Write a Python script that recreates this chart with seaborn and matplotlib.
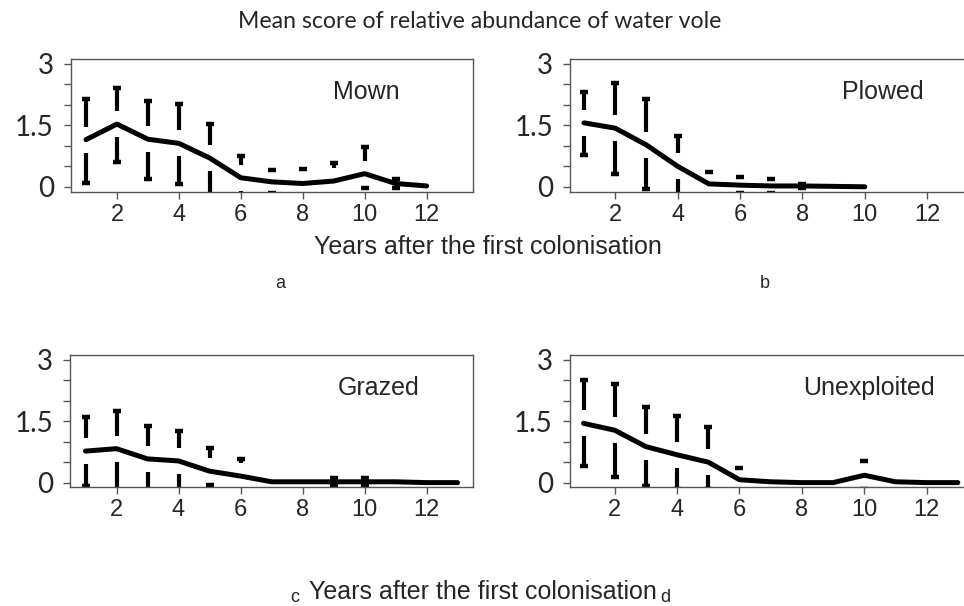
import numpy as np
import pandas as pd
import matplotlib.pyplot as plt
import seaborn as sns

# mean score and error bar limits, per management type
mown_years = list(range(1, 13))
mown_mean = [1.15, 1.53, 1.16, 1.06, 0.70, 0.22, 0.12, 0.08, 0.14, 0.32, 0.08, 0.02]
mown_upper = [2.13, 2.40, 2.10, 2.02, 1.53, 0.76, 0.40, 0.44, 0.58, 0.97, 0.18, 0.02]
mown_lower = [0.10, 0.60, 0.19, 0.08, -0.20, -0.32, -0.16, -0.28, -0.30, -0.02, -0.04, 0.02]

plowed_years = list(range(1, 11))
plowed_mean = [1.56, 1.43, 1.02, 0.50, 0.07, 0.04, 0.02, 0.02, 0.01, 0.00]
plowed_upper = [2.31, 2.54, 2.13, 1.24, 0.36, 0.24, 0.18, 0.08, 0.01, 0.00]
plowed_lower = [0.78, 0.30, -0.05, -0.24, -0.22, -0.16, -0.14, -0.04, 0.01, 0.00]

grazed_years = list(range(1, 14))
grazed_mean = [0.77, 0.83, 0.58, 0.53, 0.28, 0.16, 0.02, 0.02, 0.02, 0.02, 0.02, 0.00, 0.00]
grazed_upper = [1.60, 1.74, 1.38, 1.27, 0.85, 0.57, 0.02, 0.02, 0.12, 0.12, 0.02, 0.00, 0.00]
grazed_lower = [-0.08, -0.20, -0.20, -0.20, -0.06, -0.25, 0.02, 0.02, -0.08, -0.08, 0.02, 0.00, 0.00]

unexp_years = list(range(1, 14))
unexp_mean = [1.45, 1.28, 0.88, 0.68, 0.50, 0.07, 0.02, 0.00, 0.00, 0.18, 0.02, 0.00, 0.00]
unexp_upper = [2.50, 2.40, 1.85, 1.63, 1.35, 0.35, 0.02, 0.00, 0.00, 0.52, 0.02, 0.00, 0.00]
unexp_lower = [0.40, 0.14, -0.08, -0.15, -0.15, -0.20, 0.02, 0.00, 0.00, -0.16, 0.02, 0.00, 0.00]

x_ticks = [2, 4, 6, 8, 10, 12]
y_ticks = [0, 0.5, 1, 1.5, 2, 2.5, 3]
y_labels = ['0', '', '', '1.5', '', '', '3']

GAP = 0.32  # bars are broken around the mean line

sns.set_theme(style="ticks")
plt.rcParams['font.family'] = ['Liberation Sans', 'DejaVu Sans']

fig = plt.figure(figsize=(9.64, 6.06), dpi=100)
W, H = 964, 606


def add_axes(left, top, right, bottom):
    return fig.add_axes([left / W, 1 - bottom / H, (right - left) / W, (bottom - top) / H])


def draw_panel(ax, years, mean, upper, lower, name, name_x, xlim, ylim):
    df = pd.DataFrame({'year': years, 'mean': mean})
    sns.lineplot(data=df, x='year', y='mean', ax=ax, color='black', lw=3.6,
                 solid_capstyle='round', solid_joinstyle='round')
    for x, m, hi, lo in zip(years, mean, upper, lower):
        if hi > m + GAP:
            ax.plot([x, x], [m + GAP, hi], color='black', lw=3.0, solid_capstyle='butt')
        if hi > m + 0.05:
            ax.plot(x, hi, marker='_', ms=6, mew=3.2, color='black')
        if lo < m - GAP:
            ax.plot([x, x], [lo, m - GAP], color='black', lw=3.0, solid_capstyle='butt')
        if lo < m - 0.05:
            ax.plot(x, lo, marker='_', ms=6, mew=3.2, color='black')
    ax.set_xlim(*xlim)
    ax.set_ylim(*ylim)
    ax.set_xticks(x_ticks)
    ax.set_xticklabels([str(t) for t in x_ticks],
                       fontfamily=['Liberation Sans Narrow', 'Liberation Sans'], fontsize=17)
    ax.set_yticks(y_ticks)
    ax.set_yticklabels(y_labels, fontfamily=['Lato', 'DejaVu Sans'], fontsize=20)
    ax.tick_params(axis='both', length=5, width=1, color='#555555', pad=4)
    ax.tick_params(axis='y', pad=7)
    ax.set_xlabel('')
    ax.set_ylabel('')
    for s in ax.spines.values():
        s.set_visible(True)
        s.set_color('#555555')
        s.set_linewidth(1)
    ax.text(name_x, 2.32, name, fontsize=18, ha='left', va='center')


ax_a = add_axes(70.5, 59.3, 473, 191.7)
ax_b = add_axes(570, 59.3, 975.6, 191.7)
ax_c = add_axes(70, 355, 473, 486.7)
ax_d = add_axes(569.5, 355, 975, 486.7)

draw_panel(ax_a, mown_years, mown_mean, mown_upper, mown_lower, 'Mown', 8.97,
           (0.5, 13.5), (-0.12, 3.11))
draw_panel(ax_b, plowed_years, plowed_mean, plowed_upper, plowed_lower, 'Plowed', 9.26,
           (0.55, 13.55), (-0.12, 3.11))
draw_panel(ax_c, grazed_years, grazed_mean, grazed_upper, grazed_lower, 'Grazed', 9.13,
           (0.5, 13.5), (-0.1, 3.12))
draw_panel(ax_d, unexp_years, unexp_mean, unexp_upper, unexp_lower, 'Unexploited', 8.05,
           (0.55, 13.55), (-0.1, 3.12))

fig.text(480 / W, 1 - 22 / H, 'Mean score of relative abundance of water vole',
         ha='center', va='center', fontsize=16.6, fontfamily=['Lato', 'DejaVu Sans'])
fig.text(488 / W, 1 - 247 / H, 'Years after the first colonisation',
         ha='center', va='center', fontsize=18)
fig.text(483 / W, 1 - 592 / H, 'Years after the first colonisation',
         ha='center', va='center', fontsize=18)
for lab, px, py in [('a', 280, 283), ('b', 765, 283), ('c', 295, 598), ('d', 665, 598)]:
    fig.text(px / W, 1 - py / H, lab, ha='center', va='center', fontsize=13)

fig.savefig('out.png', dpi=100)
